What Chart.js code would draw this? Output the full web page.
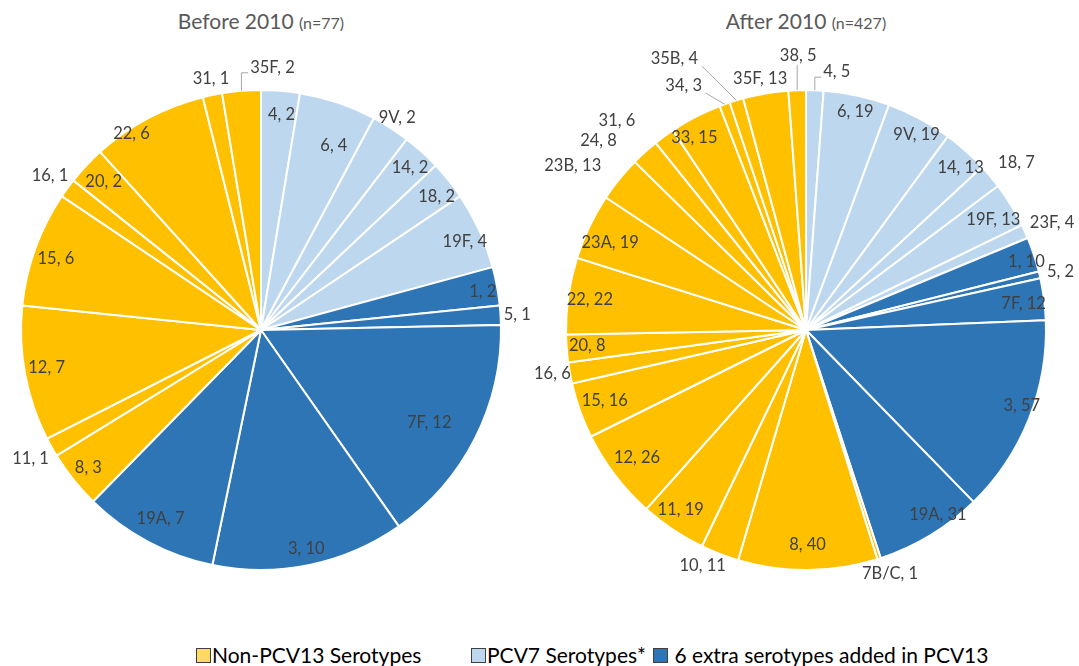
<!DOCTYPE html>
<html>
<head>
<meta charset="utf-8">
<script src="https://cdn.jsdelivr.net/npm/chart.js@4.4.0/dist/chart.umd.min.js"></script>
<style>
  body { margin: 0; width: 1079px; height: 666px; background: #fff; position: relative; overflow: hidden; font-family: Lato, "Open Sans", sans-serif; }
  canvas { position: absolute; top: 0; }
  .title { position: absolute; top: 8px; color: #595959; font-size: 21px; text-align: center; white-space: nowrap; }
  .title small { font-size: 16px; }
  .legend { position: absolute; top: 643px; font-size: 21px; color: #000; white-space: nowrap; line-height: 24px; }
  .legend i { display: inline-block; width: 13px; height: 13px; border: 1px solid #404040; vertical-align: 0px; margin-right: 1px; }
</style>
</head>
<body>
<div class="title" style="left:0;width:522px">Before 2010 <small>(n=77)</small></div>
<div class="title" style="left:545px;width:522px">After 2010 <small>(n=427)</small></div>
<canvas id="before" width="530" height="620" style="left:0"></canvas>
<canvas id="after" width="549" height="620" style="left:530px"></canvas>
<div class="legend" style="left:196px"><i style="background:#FFD966"></i>Non-PCV13 Serotypes</div>
<div class="legend" style="left:471px"><i style="background:#BDD7EE"></i>PCV7 Serotypes*</div>
<div class="legend" style="left:653px"><i style="background:#2E75B6"></i> 6 extra serotypes added in PCV13</div>
<script>
// serotype, count and vaccine group, clockwise from 12 o'clock
const beforeSerotypes = ['4', '6', '9V', '14', '18', '19F', '1', '5', '7F', '3', '19A', '8', '11', '12', '15', '16', '20', '22', '31', '35F'];
const beforeCounts = [2, 4, 2, 2, 2, 4, 2, 1, 12, 10, 7, 3, 1, 7, 6, 1, 2, 6, 1, 2];
const beforeGroups = ['pcv7', 'pcv7', 'pcv7', 'pcv7', 'pcv7', 'pcv7',
    'extra', 'extra', 'extra', 'extra', 'extra',
    'non', 'non', 'non', 'non', 'non', 'non', 'non', 'non', 'non'];

const afterSerotypes = ['4', '6', '9V', '14', '18', '19F', '23F', '1', '5', '7F', '3', '19A', '7B/C', '8', '10', '11', '12', '15', '16', '20', '22', '23A', '23B', '24', '31', '33', '34', '35B', '35F', '38'];
const afterCounts = [5, 19, 19, 13, 7, 13, 4, 10, 2, 12, 57, 31, 1, 40, 11, 19, 26, 16, 6, 8, 22, 19, 13, 8, 6, 15, 3, 4, 13, 5];
const afterGroups = ['pcv7', 'pcv7', 'pcv7', 'pcv7', 'pcv7', 'pcv7', 'pcv7',
    'extra', 'extra', 'extra', 'extra', 'extra',
    'non', 'non', 'non', 'non', 'non', 'non', 'non', 'non', 'non', 'non', 'non', 'non', 'non', 'non', 'non', 'non', 'non', 'non'];

const groupColors = { non: '#FFC000', pcv7: '#BDD7EE', extra: '#2E75B6' };

// label placement: [radius factor, dx, dy, leader]
const beforePlace = [
    [0.9, 3, 0], [0.83, 9, 4], [1.05, 0, 0], [0.92, 1, 2], [0.92, 3, 4], [0.92, 3, 3],
    [0.94, 0, 3], [1.07, 0, 0], [0.8, -3, 6], [0.93, 0, 0], [0.89, 0, 0], [0.92, 0, 0],
    [1.1, 0, 0], [0.9, -2, -2], [0.9, -2, 2], [1.09, 0, 0], [0.9, 0, 0], [0.97, -20, 9],
    [1.07, 2, 0], [1.0, 31, -23, 'elbow']
];
const afterPlace = [
    [1.0, 22, -18, 'elbow'], [0.93, 2, 0], [0.93, 5, 1], [0.93, 6, 4], [1.12, 4, 5], [0.9, 3, 2],
    [1.12, 1, 3], [0.95, 4, 3], [1.09, 0, 2], [0.91, 1, 2], [0.95, 4, -9], [0.94, 15, -8],
    [1.07, 6, -1], [0.89, 0, 1], [1.07, -11, -4], [0.91, -4, -2], [0.88, -1, 0], [0.89, 0, -1],
    [1.07, -1, -2], [0.91, -1, -1], [0.91, 0, 1], [0.89, -3, 5], [1.17, -15, 12], [1.17, -19, 19],
    [1.17, -23, 17], [0.92, -10, 4], [1.0, -41, -19, 'diag'], [1.0, -62, -42, 'diag'],
    [1.06, -3, -1], [1.0, 1, -34, 'up']
];

const sliceLabels = {
    id: 'sliceLabels',
    afterDraw(chart, args, opts) {
        const ctx = chart.ctx;
        const meta = chart.getDatasetMeta(0);
        const names = chart.data.labels;
        const counts = chart.data.datasets[0].data;
        ctx.save();
        ctx.font = '16.5px Lato, "Open Sans", sans-serif';
        ctx.fillStyle = '#404040';
        ctx.textAlign = 'center';
        ctx.textBaseline = 'middle';
        meta.data.forEach((arc, i) => {
            const p = opts.place[i];
            const mid = (arc.startAngle + arc.endAngle) / 2;
            const R = arc.outerRadius;
            const ex = arc.x + Math.cos(mid) * R;
            const ey = arc.y + Math.sin(mid) * R;
            const x = arc.x + Math.cos(mid) * R * p[0] + p[1];
            const y = arc.y + Math.sin(mid) * R * p[0] + p[2];
            const text = names[i] + ', ' + counts[i];
            const w = ctx.measureText(text).width;
            if (p[3]) {
                ctx.strokeStyle = '#A6A6A6';
                ctx.lineWidth = 1;
                ctx.beginPath();
                ctx.moveTo(ex, ey);
                if (p[3] == 'elbow') {
                    ctx.lineTo(ex, y + 5);
                    ctx.lineTo(x - w / 2 - 2, y + 5);
                }
                else if (p[3] == 'up') {
                    ctx.lineTo(ex, y + 9);
                }
                else {
                    ctx.lineTo(x + w / 2 + 4, y + 8);
                }
                ctx.stroke();
            }
            ctx.fillText(text, x, y);
        });
        ctx.restore();
    }
};

function makePie(id, names, counts, groups, place, padLeft, padRight) {
    return new Chart(document.getElementById(id), {
        type: 'pie',
        data: {
            labels: names,
            datasets: [{
                data: counts,
                backgroundColor: groups.map(g => groupColors[g]),
                borderColor: '#FFFFFF',
                borderWidth: 2
            }]
        },
        options: {
            responsive: false,
            animation: false,
            devicePixelRatio: 1,
            layout: { padding: { left: padLeft, right: padRight, top: 89, bottom: 49 } },
            plugins: {
                legend: { display: false },
                tooltip: { enabled: false },
                sliceLabels: { place: place }
            }
        },
        plugins: [sliceLabels]
    });
}

makePie('before', beforeSerotypes, beforeCounts, beforeGroups, beforePlace, 20, 28);
makePie('after', afterSerotypes, afterCounts, afterGroups, afterPlace, 35, 32);
</script>
</body>
</html>
